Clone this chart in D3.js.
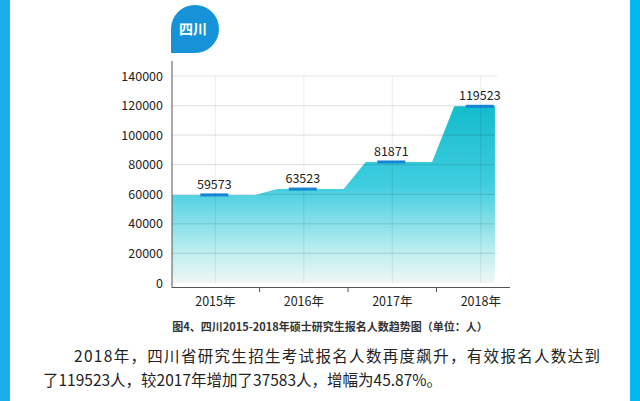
<!DOCTYPE html><html><head><meta charset="utf-8"><script src="https://cdn.jsdelivr.net/npm/d3@7"></script>
<style>body{margin:0;background:#fff;font-family:"Noto Sans CJK SC",sans-serif}</style></head><body><svg id="c" width="640" height="401"></svg>
<script>
const years=[2015,2016,2017,2018];
const yearLabels=["2015年","2016年","2017年","2018年"];
const values=[59573,63523,81871,119523];
const yTicks=[0,20000,40000,60000,80000,100000,120000,140000];
const svg=d3.select("#c");
const f='"Noto Sans CJK SC",sans-serif';
svg.append("rect").attr("x",0).attr("y",0).attr("width",10).attr("height",401).attr("fill","#1aaeea");
svg.append("rect").attr("x",630).attr("y",0).attr("width",10).attr("height",401).attr("fill","#00b9f2");
svg.append("path").attr("d","M171,53 L171,29 A24,24 0 1 1 195,53 Z").attr("fill","#1592d8");
svg.append("text").attr("x",193).attr("y",34).attr("text-anchor","middle").attr("fill","#fff").attr("font-size",14).attr("font-weight","bold").attr("font-family",f).text("四川");
const x=d3.scaleLinear().domain([2014.51,2018.5]).range([172,525]);
const y=d3.scaleLinear().domain([0,140000]).range([283,76]);
const g=svg.append("g");
const defs=svg.append("defs");
const gr=defs.append("linearGradient").attr("id","gr").attr("x1",0).attr("y1",0).attr("x2",0).attr("y2",1);
gr.append("stop").attr("offset","0%").attr("stop-color","#13bccc");
gr.append("stop").attr("offset","45%").attr("stop-color","#40cde0");
gr.append("stop").attr("offset","80%").attr("stop-color","#b5ecee");
gr.append("stop").attr("offset","100%").attr("stop-color","#f1f7f3");
const pts=[];
years.forEach((yr,i)=>{
  const s=i===0?2014.51:yr-0.3, e=i===3?yr+0.16:yr+0.45;
  pts.push([s,values[i]],[e,values[i]]);
});
const area=d3.area().x(d=>x(d[0])).y0(y(0)).y1(d=>y(d[1]));
g.append("path").datum(pts).attr("d",area).attr("fill","url(#gr)");
yTicks.forEach(t=>{ if(t>0) g.append("line").attr("x1",172).attr("x2",497).attr("y1",y(t)).attr("y2",y(t)).attr("stroke","#000").attr("stroke-opacity",0.1).attr("stroke-width",1.2);});
years.forEach(yr=>g.append("line").attr("x1",x(yr)).attr("x2",x(yr)).attr("y1",y(0)).attr("y2",y(140000)).attr("stroke","#000").attr("stroke-opacity",0.08));
years.forEach((yr,i)=>{
  g.append("line").attr("x1",x(yr)-15).attr("x2",x(yr)+13).attr("y1",y(values[i])).attr("y2",y(values[i])).attr("stroke","#1584d4").attr("stroke-width",3);
  g.append("text").attr("x",x(yr)-1).attr("y",y(values[i])-6).attr("text-anchor","middle").attr("font-size",12.5).attr("fill","#222").attr("font-family",f).text(values[i]);
});
svg.append("line").attr("x1",172).attr("x2",172).attr("y1",61).attr("y2",288).attr("stroke","#555");
svg.append("line").attr("x1",172).attr("x2",510).attr("y1",287.5).attr("y2",287.5).attr("stroke","#555");
[2015.5,2016.5,2017.5].forEach(b=>svg.append("line").attr("x1",x(b)).attr("x2",x(b)).attr("y1",287).attr("y2",292).attr("stroke","#555"));
yTicks.forEach(t=>svg.append("text").attr("x",163).attr("y",y(t)+4.5).attr("text-anchor","end").attr("font-size",12.5).attr("fill","#222").attr("font-family",f).text(t));
years.forEach((yr,i)=>svg.append("text").attr("x",x(yr)).attr("y",306).attr("text-anchor","middle").attr("font-size",12.5).attr("fill","#222").attr("font-family",f).text(yearLabels[i]));
svg.append("text").attr("x",330).attr("y",331).attr("text-anchor","middle").attr("font-size",11).attr("font-weight","bold").attr("fill","#333").attr("font-family",f).text("图4、四川2015-2018年硕士研究生报名人数趋势图（单位：人）");
svg.append("text").attr("x",74).attr("y",362).attr("font-size",15.5).attr("fill","#222").attr("font-family",f).attr("textLength",526).text("2018年，四川省研究生招生考试报名人数再度飙升，有效报名人数达到");
svg.append("text").attr("x",43).attr("y",386).attr("font-size",15.5).attr("fill","#222").attr("font-family",f).text("了119523人，较2017年增加了37583人，增幅为45.87%。");
</script></body></html>
